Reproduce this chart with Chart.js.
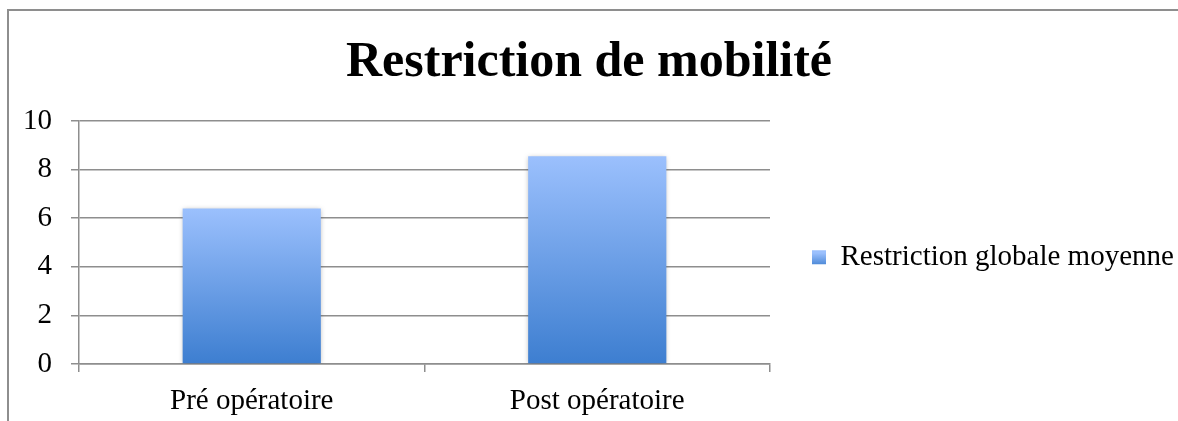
<!DOCTYPE html>
<html>
<head>
<meta charset="utf-8">
<script src="https://cdn.jsdelivr.net/npm/chart.js@4/dist/chart.umd.min.js"></script>
<style>
  html, body { margin: 0; padding: 0; background: #fff; overflow: hidden; }
  #wrap { position: relative; width: 1178px; height: 421px; }
  #frame { position: absolute; left: 7px; top: 9px; width: 1300px; height: 500px;
           border-left: 2px solid #8e8e8e; border-top: 2px solid #8e8e8e; }
  canvas { position: absolute; left: 0; top: 0; }
</style>
</head>
<body>
<div id="wrap">
  <div id="frame"></div>
  <canvas id="canvas" width="1178" height="421"></canvas>
</div>
<script>
// data
var categories = ['Pré opératoire', 'Post opératoire'];
var seriesName = 'Restriction globale moyenne';
var seriesValues = [6.4, 8.55];
var yTicks = [0, 2, 4, 6, 8, 10];

var TOP_COLOR = '#9bc0fd';
var BOTTOM_COLOR = '#3d7ed0';
var serif = "'Liberation Serif', 'DejaVu Serif', serif";

// gradient per bar, light at the top, dark at the base
function barGradient(context) {
    var chart = context.chart;
    if (!chart.chartArea || !chart.scales.y) {
        return TOP_COLOR;
    }
    var y = chart.scales.y;
    var top = y.getPixelForValue(context.raw);
    var base = y.getPixelForValue(0);
    var g = chart.ctx.createLinearGradient(0, top, 0, base);
    g.addColorStop(0, TOP_COLOR);
    g.addColorStop(1, BOTTOM_COLOR);
    return g;
}

// soft shadow under the bars
var barShadow = {
    id: 'barShadow',
    beforeDatasetsDraw: function(chart) {
        var ctx = chart.ctx;
        ctx.save();
        ctx.shadowColor = 'rgba(0,0,0,0.28)';
        ctx.shadowBlur = 5;
        ctx.shadowOffsetX = 0;
        ctx.shadowOffsetY = 1;
    },
    afterDatasetsDraw: function(chart) {
        chart.ctx.restore();
    }
};

// legend sits lower than chart.js centres it
var legendOffset = {
    id: 'legendOffset',
    afterLayout: function(chart) {
        var l = chart.legend;
        l.top += 48;
        l.bottom += 48;
    }
};

var config = {
    type: 'bar',
    data: {
        labels: categories,
        datasets: [{
            label: seriesName,
            data: seriesValues,
            backgroundColor: barGradient,
            borderWidth: 0,
            categoryPercentage: 0.4,
            barPercentage: 1.0
        }]
    },
    options: {
        responsive: false,
        animation: false,
        layout: { padding: { top: 0, left: 0, right: 0, bottom: 2.6 } },
        plugins: {
            title: {
                display: true,
                text: 'Restriction de mobilité',
                color: '#000',
                font: { family: serif, size: 50, weight: 'bold' },
                padding: { top: 33, bottom: 28 }
            },
            legend: {
                position: 'right',
                maxWidth: 408,
                labels: {
                    color: '#000',
                    font: { family: serif, size: 29 },
                    boxWidth: 14,
                    boxHeight: 14,
                    padding: 42,
                    generateLabels: function(chart) {
                        var g = chart.ctx.createLinearGradient(0, 253, 0, 267);
                        g.addColorStop(0, TOP_COLOR);
                        g.addColorStop(1, BOTTOM_COLOR);
                        return [{
                            text: seriesName,
                            fillStyle: g,
                            strokeStyle: 'rgba(0,0,0,0)',
                            lineWidth: 0,
                            datasetIndex: 0
                        }];
                    }
                }
            },
            tooltip: { enabled: false }
        },
        scales: {
            x: {
                afterFit: function(scale) {
                    scale.height = 54.4;
                },
                grid: {
                    offset: true,
                    drawOnChartArea: false,
                    color: '#8e8e8e',
                    lineWidth: 1.5,
                    tickLength: 8
                },
                border: { color: '#8e8e8e', width: 1.5 },
                ticks: {
                    color: '#000',
                    font: { family: serif, size: 29 },
                    padding: 11.6
                }
            },
            y: {
                min: 0,
                max: 10,
                afterBuildTicks: function(scale) {
                    scale.ticks = yTicks.map(function(v) { return { value: v }; });
                },
                afterFit: function(scale) {
                    scale.width = 79;
                },
                grid: {
                    color: '#8e8e8e',
                    lineWidth: 1.5,
                    tickLength: 8
                },
                border: { color: '#8e8e8e', width: 1.5 },
                ticks: {
                    color: '#000',
                    font: { family: serif, size: 29 },
                    padding: 19
                }
            }
        }
    },
    plugins: [barShadow, legendOffset]
};

window.onload = function() {
    var ctx = document.getElementById('canvas').getContext('2d');
    window.myBar = new Chart(ctx, config);
};
</script>
</body>
</html>
